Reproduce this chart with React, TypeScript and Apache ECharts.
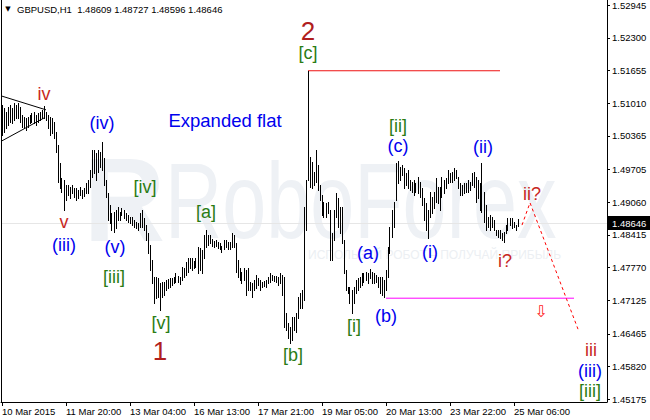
import React, { useEffect, useRef } from "react";
import * as echarts from "echarts";

// ---------- data ----------
const symbol = "GBPUSD,H1";
const tickLabels = [
  "10 Mar 2015", "11 Mar 20:00", "13 Mar 04:00", "16 Mar 13:00", "17 Mar 21:00",
  "19 Mar 05:00", "20 Mar 13:00", "23 Mar 22:00", "25 Mar 06:00",
];
const barsPerTick = 32;
const slotCount = 303;

const highs = [
  1.5098, 1.5092, 1.5084, 1.5094, 1.5098, 1.5092, 1.5102, 1.5098, 1.5102, 1.5094,
  1.5078, 1.5074, 1.5072, 1.5074, 1.5078, 1.5082, 1.5084, 1.5078, 1.5082, 1.5084,
  1.5088, 1.5096, 1.5084, 1.5078, 1.5074, 1.5072, 1.5064, 1.5044, 1.5019, 1.4983,
  1.4954, 1.4950, 1.4940, 1.4940, 1.4936, 1.4940, 1.4934, 1.4934, 1.4930, 1.4936,
  1.4930, 1.4934, 1.4944, 1.4950, 1.4970, 1.5009, 1.5009, 1.5003, 1.5009, 1.5005,
  1.5025, 1.4993, 1.4950, 1.4924, 1.4900, 1.4885, 1.4887, 1.4891, 1.4897, 1.4887,
  1.4895, 1.4891, 1.4885, 1.4881, 1.4877, 1.4877, 1.4871, 1.4867, 1.4865, 1.4885,
  1.4891, 1.4875, 1.4861, 1.4845, 1.4822, 1.4792, 1.4759, 1.4759, 1.4757, 1.4747,
  1.4749, 1.4749, 1.4753, 1.4755, 1.4757, 1.4757, 1.4759, 1.4767, 1.4761, 1.4759,
  1.4778, 1.4776, 1.4788, 1.4796, 1.4796, 1.4796, 1.4790, 1.4796, 1.4818, 1.4816,
  1.4812, 1.4841, 1.4851, 1.4841, 1.4841, 1.4834, 1.4830, 1.4832, 1.4828, 1.4826,
  1.4820, 1.4832, 1.4832, 1.4828, 1.4828, 1.4845, 1.4841, 1.4826, 1.4792, 1.4776,
  1.4769, 1.4776, 1.4773, 1.4776, 1.4749, 1.4747, 1.4753, 1.4763, 1.4757, 1.4753,
  1.4749, 1.4751, 1.4753, 1.4759, 1.4767, 1.4763, 1.4761, 1.4761, 1.4759, 1.4767,
  1.4763, 1.4759, 1.4688, 1.4668, 1.4660, 1.4680, 1.4680, 1.4688, 1.4719, 1.4727,
  1.4733, 1.4897, 1.4950, 1.5165, 1.4995, 1.4985, 1.4966, 1.5009, 1.4979, 1.4940,
  1.4920, 1.4907, 1.4905, 1.4907, 1.4891, 1.4845, 1.4891, 1.4924, 1.4914, 1.4897,
  1.4897, 1.4832, 1.4773, 1.4739, 1.4739, 1.4733, 1.4739, 1.4753, 1.4757, 1.4759,
  1.4767, 1.4767, 1.4769, 1.4767, 1.4774, 1.4769, 1.4767, 1.4763, 1.4759, 1.4759,
  1.4759, 1.4753, 1.4773, 1.4818, 1.4857, 1.4891, 1.4907, 1.4983, 1.4987, 1.4975,
  1.4979, 1.4973, 1.4964, 1.4970, 1.4950, 1.4946, 1.4950, 1.4944, 1.4956, 1.4946,
  1.4934, 1.4914, 1.4905, 1.4891, 1.4926, 1.4916, 1.4926, 1.4954, 1.4936, 1.4936,
  1.4956, 1.4950, 1.4954, 1.4970, 1.4964, 1.4966, 1.4973, 1.4970, 1.4956, 1.4944,
  1.4940, 1.4944, 1.4944, 1.4950, 1.4946, 1.4964, 1.4966, 1.4956, 1.4950, 1.4944,
  1.4983, 1.4926, 1.4900, 1.4877, 1.4881, 1.4877, 1.4871, 1.4851, 1.4851, 1.4851,
  1.4845, 1.4847, 1.4861, 1.4875, 1.4875, 1.4875, 1.4867, 1.4861, 1.48727,
];
const lows = [
  1.5038, 1.5044, 1.5052, 1.5058, 1.5064, 1.5062, 1.5068, 1.5072, 1.5072, 1.5064,
  1.5054, 1.5052, 1.5048, 1.5054, 1.5062, 1.5064, 1.5062, 1.5058, 1.5064, 1.5068,
  1.5072, 1.5072, 1.5068, 1.5052, 1.5038, 1.5042, 1.5033, 1.5005, 1.4946, 1.4934,
  1.4926, 1.4891, 1.4910, 1.4920, 1.4914, 1.4924, 1.4916, 1.4910, 1.4914, 1.4920,
  1.4914, 1.4918, 1.4924, 1.4924, 1.4936, 1.4956, 1.4964, 1.4950, 1.4966, 1.4975,
  1.4970, 1.4940, 1.4916, 1.4871, 1.4865, 1.4851, 1.4847, 1.4855, 1.4871, 1.4871,
  1.4881, 1.4875, 1.4871, 1.4867, 1.4865, 1.4861, 1.4857, 1.4855, 1.4851, 1.4857,
  1.4857, 1.4851, 1.4832, 1.4806, 1.4773, 1.4747, 1.4708, 1.4717, 1.4719, 1.4694,
  1.4719, 1.4723, 1.4733, 1.4737, 1.4739, 1.4743, 1.4747, 1.4749, 1.4749, 1.4745,
  1.4753, 1.4759, 1.4763, 1.4769, 1.4776, 1.4773, 1.4776, 1.4778, 1.4767, 1.4773,
  1.4767, 1.4796, 1.4818, 1.4822, 1.4826, 1.4820, 1.4818, 1.4820, 1.4816, 1.4814,
  1.4808, 1.4814, 1.4818, 1.4814, 1.4814, 1.4818, 1.4818, 1.4769, 1.4759, 1.4753,
  1.4747, 1.4753, 1.4723, 1.4733, 1.4733, 1.4719, 1.4733, 1.4737, 1.4743, 1.4733,
  1.4739, 1.4741, 1.4739, 1.4747, 1.4749, 1.4753, 1.4751, 1.4749, 1.4743, 1.4747,
  1.4723, 1.4660, 1.4654, 1.4639, 1.4629, 1.4635, 1.4654, 1.4650, 1.4678, 1.4698,
  1.4698, 1.4713, 1.4851, 1.4950, 1.4936, 1.4934, 1.4940, 1.4946, 1.4930, 1.4910,
  1.4881, 1.4877, 1.4877, 1.4885, 1.4792, 1.4792, 1.4832, 1.4877, 1.4857, 1.4845,
  1.4826, 1.4767, 1.4733, 1.4727, 1.4708, 1.4688, 1.4708, 1.4727, 1.4733, 1.4739,
  1.4743, 1.4749, 1.4753, 1.4747, 1.4757, 1.4747, 1.4747, 1.4749, 1.4739, 1.4727,
  1.4723, 1.4719, 1.4733, 1.4759, 1.4806, 1.4838, 1.4857, 1.4910, 1.4944, 1.4950,
  1.4960, 1.4934, 1.4940, 1.4934, 1.4930, 1.4926, 1.4920, 1.4926, 1.4924, 1.4916,
  1.4900, 1.4871, 1.4851, 1.4836, 1.4877, 1.4885, 1.4895, 1.4907, 1.4905, 1.4891,
  1.4916, 1.4924, 1.4934, 1.4944, 1.4946, 1.4946, 1.4950, 1.4954, 1.4934, 1.4920,
  1.4920, 1.4924, 1.4926, 1.4926, 1.4930, 1.4940, 1.4936, 1.4907, 1.4914, 1.4891,
  1.4887, 1.4867, 1.4851, 1.4857, 1.4851, 1.4857, 1.4851, 1.4841, 1.4838, 1.4836,
  1.4832, 1.4828, 1.4845, 1.4851, 1.4861, 1.4855, 1.4857, 1.4851, 1.48596,
];
const lastOpen = 1.48609;
const lastClose = 1.48646;

const yTicks = [
  1.52945, 1.523, 1.51655, 1.5101, 1.50365, 1.49705, 1.4906, 1.48415,
  1.4777, 1.47125, 1.46465, 1.4582, 1.45175,
];
const yMin = 1.45125;
const yMax = 1.53044;

const resistanceLine = [[153, 1.5165], [249, 1.5165]];
const supportLine = [[192, 1.4717], [286, 1.4717]];
const forecastPath = [[260, 1.4861], [264, 1.4905], [288, 1.4656]];
const triangleUpper = [[0, 1.5115], [22, 1.5088]];
const triangleLower = [[0, 1.5027], [21, 1.5072]];

// ---------- styles ----------
const FONT = '"Liberation Sans", Arial, sans-serif';
const BLUE = "#0000ee";
const GREEN = "#2a7c14";
const RED = "#c8281e";
const DARKRED = "#b01e1e";

type Lbl = [string, number, number, string, number];
const waveLabels: Lbl[] = [
  ["iv", 44, 94, RED, 18],
  ["v", 64, 222, RED, 18],
  ["(iii)", 64, 245, BLUE, 18],
  ["(iv)", 102, 123, BLUE, 18],
  ["(v)", 115, 247, BLUE, 18],
  ["[iii]", 114, 277, GREEN, 18],
  ["[iv]", 145, 187, GREEN, 18],
  ["[v]", 161, 323, GREEN, 18],
  ["1", 160, 351, DARKRED, 26],
  ["[a]", 206, 212, GREEN, 18],
  ["Expanded flat", 225, 120, BLUE, 18.5],
  ["2", 308, 31, DARKRED, 26],
  ["[c]", 308, 53, GREEN, 18],
  ["[b]", 293, 355, GREEN, 18],
  ["[i]", 354, 326, GREEN, 18],
  ["(a)", 368, 253, BLUE, 18],
  ["(b)", 386, 316, BLUE, 18],
  ["[ii]", 398, 126, GREEN, 18],
  ["(c)", 398, 146, BLUE, 18],
  ["(i)", 430, 252, BLUE, 18],
  ["(ii)", 483, 147, BLUE, 18],
  ["ii?", 532, 194, RED, 18],
  ["i?", 505, 261, RED, 18],
  ["iii", 591, 350, RED, 18],
  ["(iii)", 590, 371, BLUE, 18],
  ["[iii]", 590, 391, GREEN, 18],
];

const categories = Array.from({ length: slotCount }, (_, i) => String(i));
const isTick = (idx: number) => idx % barsPerTick === 0 && idx / barsPerTick < tickLabels.length;

function buildGraphic(yClose: number) {
  const g: any[] = [
    {
      type: "text", x: 84, y: 200, z: 0, scaleX: 0.95,
      style: { text: "R", fill: "#eef1f5", fontSize: 118, fontWeight: "bold", fontFamily: FONT, align: "left", verticalAlign: "middle" },
    },
    {
      type: "text", x: 165, y: 201, z: 0, scaleX: 0.74,
      style: { text: "RoboForex", fill: "#eef1f5", fontSize: 107, fontFamily: FONT, align: "left", verticalAlign: "middle" },
    },
    {
      type: "text", x: 308, y: 255, z: 0,
      style: { text: "ИСПОЛЬЗУЙ РОБОТ – ПОЛУЧАЙ ПРИБЫЛЬ", fill: "#eceff3", fontSize: 12, fontFamily: FONT, align: "left", verticalAlign: "middle" },
    },
    {
      type: "line", z: 1,
      shape: { x1: 2, y1: Math.round(yClose) + 0.5, x2: 607, y2: Math.round(yClose) + 0.5 },
      style: { stroke: "#e6e6e6", lineWidth: 1 },
    },
    {
      type: "line", z: 10,
      shape: { x1: 1.5, y1: 0, x2: 1.5, y2: 402 },
      style: { stroke: "#000", lineWidth: 1 },
    },
    {
      type: "rect", z: 20,
      shape: { x: 607, y: Math.round(yClose) - 7, width: 43, height: 14 },
      style: { fill: "#000" },
    },
    {
      type: "text", x: 612, y: Math.round(yClose), z: 21,
      style: { text: lastClose.toFixed(5), fill: "#fff", fontSize: 9.5, fontFamily: FONT, align: "left", verticalAlign: "middle" },
    },
    {
      type: "text", x: 8, y: 9, z: 20,
      style: { text: "▼", fill: "#000", fontSize: 7, fontFamily: "DejaVu Sans", align: "center", verticalAlign: "middle" },
    },
    {
      type: "text", x: 17, y: 9, z: 20,
      style: {
        text: `${symbol}  ${lastOpen.toFixed(5)} ${highs[highs.length - 1].toFixed(5)} ${lows[lows.length - 1].toFixed(5)} ${lastClose.toFixed(5)}`,
        fill: "#000", fontSize: 9.5, fontFamily: FONT, align: "left", verticalAlign: "middle",
      },
    },
    {
      type: "text", x: 541, y: 311, z: 20,
      style: { text: "⇩", fill: "#ff2020", fontSize: 16, fontFamily: "DejaVu Sans", align: "center", verticalAlign: "middle" },
    },
  ];
  waveLabels.forEach(([text, x, y, color, size]) => {
    g.push({
      type: "text", x, y, z: 30,
      style: { text, fill: color, fontSize: size, fontFamily: FONT, align: "center", verticalAlign: "middle" },
    });
  });
  return g;
}

export default function App() {
  const ref = useRef<HTMLDivElement>(null);
  useEffect(() => {
    if (!ref.current) return;
    const chart = echarts.init(ref.current, null, { renderer: "svg" });
    const lineSeries = (data: number[][], color: string, type: any = "solid") => ({
      type: "line",
      data,
      symbol: "none",
      silent: true,
      z: 4,
      lineStyle: { color, width: 1, type },
    });
    chart.setOption({
      animation: false,
      backgroundColor: "#ffffff",
      grid: { left: 1, right: 43, top: 0, bottom: 18, outerBoundsMode: "none" },
      xAxis: {
        type: "category",
        data: categories,
        boundaryGap: true,
        axisLine: { show: true, lineStyle: { color: "#000", width: 1 } },
        axisTick: { show: true, interval: (i: number) => isTick(i), alignWithLabel: true, length: 4, lineStyle: { color: "#000" } },
        axisLabel: {
          interval: (i: number) => isTick(i),
          formatter: (_v: string, i: number) => tickLabels[i / barsPerTick] ?? "",
          align: "left",
          margin: 4,
          color: "#000",
          fontSize: 9.5,
          fontFamily: FONT,
        },
        splitLine: { show: false },
      },
      yAxis: {
        type: "value",
        position: "right",
        min: yMin,
        max: yMax,
        axisLine: { show: true, lineStyle: { color: "#000", width: 1 } },
        axisTick: { show: true, length: 3, lineStyle: { color: "#000" }, customValues: yTicks },
        axisLabel: {
          customValues: yTicks,
          formatter: (v: number) => v.toFixed(5),
          color: "#000",
          fontSize: 9.5,
          fontFamily: FONT,
          margin: 5,
        },
        splitLine: { show: false },
      },
      series: [
        {
          type: "custom",
          z: 5,
          silent: true,
          data: highs.map((h, i) => [i, h, lows[i]]),
          encode: { x: 0, y: [1, 2] },
          renderItem: (_p: any, api: any) => {
            const i = api.value(0);
            const top = api.coord([i, api.value(1)]);
            const bot = api.coord([i, api.value(2)]);
            const x = Math.floor(top[0]) + 0.5;
            return {
              type: "line",
              shape: { x1: x, y1: Math.round(top[1]), x2: x, y2: Math.round(bot[1]) + 1 },
              style: { stroke: "#000", lineWidth: 1 },
            };
          },
        },
        lineSeries(resistanceLine, "#ee1111"),
        lineSeries(supportLine, "#ff00ff"),
        lineSeries(forecastPath, "#ff0000", [3, 3]),
        lineSeries(triangleUpper, "#000"),
        lineSeries(triangleLower, "#000"),
      ],
    });
    const yClose = chart.convertToPixel({ yAxisIndex: 0 }, lastClose) as number;
    chart.setOption({ graphic: buildGraphic(yClose) });
    return () => chart.dispose();
  }, []);
  return (
    <div
      ref={ref}
      style={{ position: "fixed", left: 0, top: 0, width: 650, height: 420, background: "#fff" }}
    />
  );
}
